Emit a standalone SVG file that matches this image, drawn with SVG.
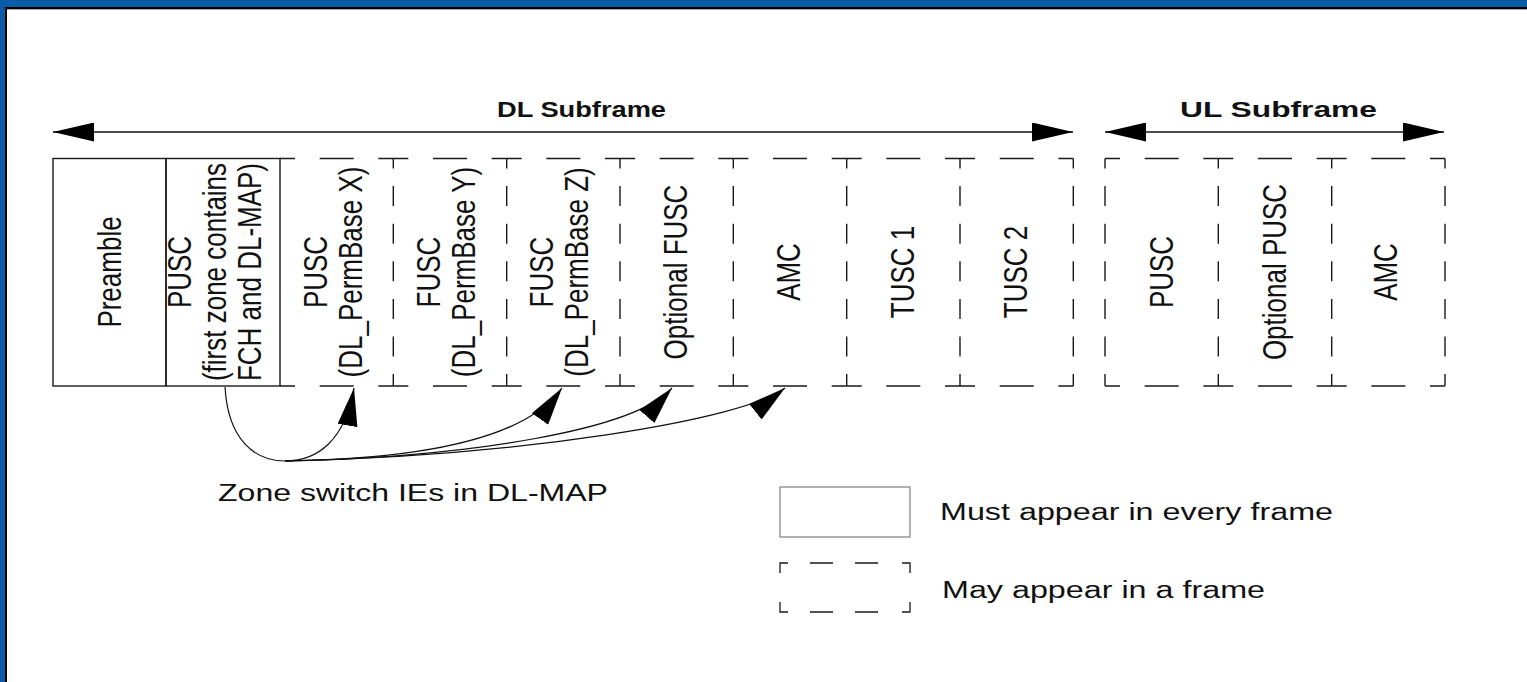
<svg xmlns="http://www.w3.org/2000/svg" width="1527" height="682" viewBox="0 0 1527 682">
  <style>
    .cell { fill: none; stroke: #1a1a1a; stroke-width: 1.4; }
    .hd { fill: none; stroke: #1a1a1a; stroke-width: 1.4; stroke-dasharray: 30 24.67 34 24.67; stroke-dashoffset: 15; }
    .vd { fill: none; stroke: #1a1a1a; stroke-width: 1.4; stroke-dasharray: 20 17.6; stroke-dashoffset: 10; }
    .vt { font-family: "Liberation Sans", Arial, sans-serif; font-size: 26px; fill: #111; text-anchor: middle; }
    .ht { font-family: "Liberation Sans", Arial, sans-serif; font-size: 23px; fill: #111; }
    .title { font-family: "Liberation Sans", Arial, sans-serif; font-size: 22px; font-weight: bold; fill: #111; }
    .conn { fill: none; stroke: #111; stroke-width: 1.2; }
  </style>
  <defs>
    <marker id="tip" markerUnits="userSpaceOnUse" markerWidth="40" markerHeight="22" refX="38" refY="10" orient="auto">
      <path d="M0,0 L38,10 L0,20 z" fill="#000"/>
    </marker>
    <marker id="tipStart" markerUnits="userSpaceOnUse" markerWidth="44" markerHeight="20" refX="0" refY="9.5" orient="auto">
      <path d="M0,9.5 L41,0 L41,19 z" fill="#000"/>
    </marker>
    <marker id="tipEnd" markerUnits="userSpaceOnUse" markerWidth="44" markerHeight="20" refX="41" refY="9.5" orient="auto">
      <path d="M0,0 L41,9.5 L0,19 z" fill="#000"/>
    </marker>
  </defs>

  <!-- page frame -->
  <rect x="0" y="0" width="1527" height="682" fill="#ffffff"/>
  <rect x="0" y="0" width="1527" height="7" fill="#0b5ca6"/>
  <rect x="0" y="0" width="5" height="682" fill="#0b5ca6"/>
  <rect x="5" y="7" width="1522" height="2" fill="#000"/>
  <rect x="5" y="7" width="2" height="675" fill="#000"/>
  <line x1="7" y1="9.5" x2="1527" y2="9.5" stroke="#aaa" stroke-width="1"/>

  <!-- subframe extents -->
  <g id="dl-subframe">
    <line x1="53" y1="132" x2="1073" y2="132" stroke="#111" stroke-width="1.3" marker-start="url(#tipStart)" marker-end="url(#tipEnd)"/>
    <text class="title" x="497" y="117" textLength="169" lengthAdjust="spacingAndGlyphs">DL Subframe</text>
  </g>
  <g id="ul-subframe">
    <line x1="1105" y1="132" x2="1444" y2="132" stroke="#111" stroke-width="1.3" marker-start="url(#tipStart)" marker-end="url(#tipEnd)"/>
    <text class="title" x="1180" y="117" textLength="197" lengthAdjust="spacingAndGlyphs">UL Subframe</text>
  </g>

  <!-- mandatory zones -->
  <g id="preamble">
    <rect class="cell" x="53" y="158.5" width="113" height="227.5"/>
    <text class="vt" transform="translate(121,272) rotate(-90) scale(1,1.3)">Preamble</text>
  </g>
  <g id="pusc-first">
    <rect class="cell" x="166" y="158.5" width="114" height="227.5"/>
    <text class="vt" transform="translate(191,272) rotate(-90) scale(1,1.3)">PUSC</text>
    <text class="vt" transform="translate(226,272) rotate(-90) scale(1,1.3)">(first zone contains</text>
    <text class="vt" transform="translate(261,272) rotate(-90) scale(1,1.3)">FCH and DL-MAP)</text>
  </g>

  <!-- optional DL zones: shared dashed outline -->
  <g id="dl-optional-outline">
    <line class="hd" x1="280" y1="158.5" x2="1073.3" y2="158.5"/>
    <line class="hd" x1="280" y1="386" x2="1073.3" y2="386"/>
    <line class="vd" x1="393.3" y1="158.5" x2="393.3" y2="386"/>
    <line class="vd" x1="506.7" y1="158.5" x2="506.7" y2="386"/>
    <line class="vd" x1="620" y1="158.5" x2="620" y2="386"/>
    <line class="vd" x1="733.3" y1="158.5" x2="733.3" y2="386"/>
    <line class="vd" x1="846.7" y1="158.5" x2="846.7" y2="386"/>
    <line class="vd" x1="960" y1="158.5" x2="960" y2="386"/>
    <line class="vd" x1="1073.3" y1="158.5" x2="1073.3" y2="386"/>
  </g>
  <g id="pusc-x">
    <text class="vt" transform="translate(327,272) rotate(-90) scale(1,1.3)">PUSC</text>
    <text class="vt" transform="translate(362,272) rotate(-90) scale(1,1.3)">(DL_PermBase X)</text>
  </g>
  <g id="fusc-y">
    <text class="vt" transform="translate(440,272) rotate(-90) scale(1,1.3)">FUSC</text>
    <text class="vt" transform="translate(475,272) rotate(-90) scale(1,1.3)">(DL_PermBase Y)</text>
  </g>
  <g id="fusc-z">
    <text class="vt" transform="translate(553,272) rotate(-90) scale(1,1.3)">FUSC</text>
    <text class="vt" transform="translate(588,272) rotate(-90) scale(1,1.3)">(DL_PermBase Z)</text>
  </g>
  <g id="optional-fusc">
    <text class="vt" transform="translate(687,272) rotate(-90) scale(1,1.3)">Optional FUSC</text>
  </g>
  <g id="dl-amc">
    <text class="vt" transform="translate(800,272) rotate(-90) scale(1,1.3)">AMC</text>
  </g>
  <g id="tusc-1">
    <text class="vt" transform="translate(914,272) rotate(-90) scale(1,1.3)">TUSC 1</text>
  </g>
  <g id="tusc-2">
    <text class="vt" transform="translate(1027,272) rotate(-90) scale(1,1.3)">TUSC 2</text>
  </g>

  <!-- UL zones -->
  <g id="ul-outline">
    <line class="hd" x1="1105" y1="158.5" x2="1445" y2="158.5"/>
    <line class="hd" x1="1105" y1="386" x2="1445" y2="386"/>
    <line class="vd" x1="1105" y1="158.5" x2="1105" y2="386"/>
    <line class="vd" x1="1218.3" y1="158.5" x2="1218.3" y2="386"/>
    <line class="vd" x1="1331.7" y1="158.5" x2="1331.7" y2="386"/>
    <line class="vd" x1="1445" y1="158.5" x2="1445" y2="386"/>
  </g>
  <g id="ul-pusc">
    <text class="vt" transform="translate(1173,272) rotate(-90) scale(1,1.3)">PUSC</text>
  </g>
  <g id="ul-optional-pusc">
    <text class="vt" transform="translate(1286,272) rotate(-90) scale(1,1.3)">Optional PUSC</text>
  </g>
  <g id="ul-amc">
    <text class="vt" transform="translate(1397,272) rotate(-90) scale(1,1.3)">AMC</text>
  </g>

  <!-- zone switch connectors -->
  <g id="connectors">
    <path class="conn" d="M225,387 C228,440 255,461 285,461 C318,461 345,440 354,388" marker-end="url(#tip)"/>
    <path class="conn" d="M285,461 C420,459 525,440 562,388" marker-end="url(#tip)"/>
    <path class="conn" d="M285,461 C470,457 635,430 672,388" marker-end="url(#tip)"/>
    <path class="conn" d="M285,461 C520,456 745,420 785,388" marker-end="url(#tip)"/>
  </g>
  <g id="zone-switch-label">
    <text class="ht" x="218" y="501" textLength="390" lengthAdjust="spacingAndGlyphs">Zone switch IEs in DL-MAP</text>
  </g>

  <!-- legend -->
  <g id="legend-must">
    <rect x="780" y="487" width="130" height="50" fill="none" stroke="#999" stroke-width="1.5"/>
    <text class="ht" x="940" y="520" textLength="393" lengthAdjust="spacingAndGlyphs">Must appear in every frame</text>
  </g>
  <g id="legend-may">
    <path d="M780,573 V563 H788 M810,563 H833 M855,563 H878 M902,563 H910 V573 M780,602 V612 H788 M810,612 H833 M855,612 H878 M902,612 H910 V602" fill="none" stroke="#1a1a1a" stroke-width="1.3"/>
    <text class="ht" x="942" y="598" textLength="323" lengthAdjust="spacingAndGlyphs">May appear in a frame</text>
  </g>
</svg>
